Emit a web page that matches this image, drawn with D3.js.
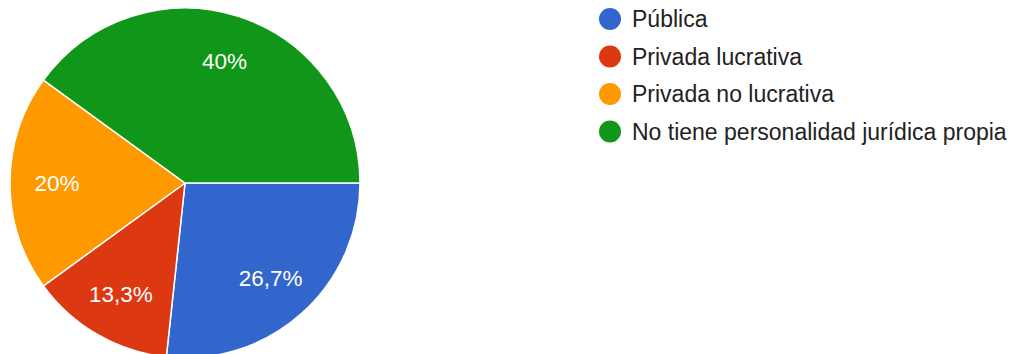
<!DOCTYPE html>
<html>
<head>
<meta charset="utf-8">
<script src="https://cdn.jsdelivr.net/npm/d3@7"></script>
<style>
  html, body { margin: 0; padding: 0; background: #ffffff; }
  svg { display: block; }
  text { font-family: "Liberation Sans", Arial, sans-serif; }
</style>
</head>
<body>
<svg id="chart" width="1017" height="354"></svg>
<script>
// Categories, shares (%) and printed labels
const categories = ["Pública", "Privada lucrativa", "Privada no lucrativa", "No tiene personalidad jurídica propia"];
const values = [26.7, 13.3, 20, 40];
const valueLabels = ["26,7%", "13,3%", "20%", "40%"];
const colors = ["#3366cc", "#dc3912", "#ff9900", "#109618"];

const svg = d3.select("#chart");
const cx = 185, cy = 183, radius = 175, labelRadius = 128;

const color = d3.scaleOrdinal().domain(categories).range(colors);

const pie = d3.pie()
  .value(d => d.value)
  .sort(null)
  .startAngle(Math.PI / 2)
  .endAngle(Math.PI / 2 + 2 * Math.PI);

const data = categories.map((c, i) => ({ name: c, value: values[i], label: valueLabels[i] }));
const arcs = pie(data);

const arc = d3.arc().innerRadius(0).outerRadius(radius);
const labelArc = d3.arc().innerRadius(labelRadius).outerRadius(labelRadius);

const g = svg.append("g").attr("transform", `translate(${cx},${cy})`);

g.selectAll("path.slice")
  .data(arcs)
  .join("path")
  .attr("class", "slice")
  .attr("d", arc)
  .attr("fill", d => color(d.data.name))
  .attr("stroke", "#ffffff")
  .attr("stroke-width", 1.5);

g.selectAll("text.pct")
  .data(arcs)
  .join("text")
  .attr("class", "pct")
  .attr("transform", d => `translate(${labelArc.centroid(d)})`)
  .attr("text-anchor", "middle")
  .attr("dy", "0.35em")
  .attr("fill", "#ffffff")
  .style("font-size", "22.5px")
  .text(d => d.data.label);

// Legend
const legendX = 610, legendY = 19, legendStep = 37.5;
const legend = svg.append("g");
const items = legend.selectAll("g.item")
  .data(categories)
  .join("g")
  .attr("class", "item")
  .attr("transform", (d, i) => `translate(${legendX},${legendY + i * legendStep})`);

items.append("circle")
  .attr("r", 11)
  .attr("fill", d => color(d));

items.append("text")
  .attr("x", 22)
  .attr("dy", "0.35em")
  .attr("fill", "#222222")
  .style("font-size", "23px")
  .text(d => d);
</script>
</body>
</html>
